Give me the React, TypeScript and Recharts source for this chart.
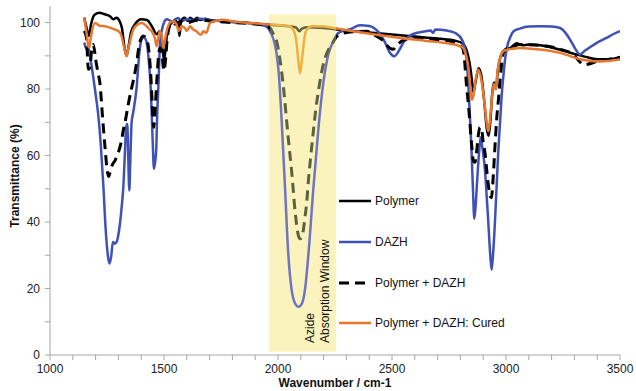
import React from 'react';
import { LineChart, Line, XAxis, YAxis, ReferenceArea, Legend, Label } from 'recharts';

const FONT = '"Liberation Sans", Arial, sans-serif';

// wavenumber (cm-1) / transmittance (%)
const polymerWn = [1150, 1160, 1170, 1180, 1195, 1215, 1240, 1262, 1278, 1292, 1305, 1315, 1328, 1336, 1345, 1355, 1373, 1400, 1425, 1446, 1468, 1482, 1492, 1500, 1508, 1515, 1534, 1550, 1562, 1568, 1575, 1590, 1605, 1615, 1630, 1645, 1660, 1680, 1700, 1750, 1800, 1850, 1900, 1950, 2000, 2050, 2080, 2093, 2105, 2130, 2200, 2300, 2400, 2500, 2600, 2700, 2780, 2812, 2828, 2840, 2850, 2857, 2866, 2880, 2892, 2905, 2916, 2924, 2932, 2940, 2947, 2955, 2965, 2980, 2995, 3020, 3047, 3070, 3100, 3150, 3200, 3250, 3300, 3350, 3400, 3450, 3500];
const polymerT = [101.5, 98.5, 96, 99.5, 102.3, 103, 102.5, 102, 101, 101.5, 100.5, 98.5, 92, 90, 93, 97, 99.5, 101, 100.8, 99, 96.5, 97.5, 94, 88.5, 93, 97.5, 100, 100.5, 99.5, 96, 100.5, 101.5, 100.5, 101.5, 100.8, 101.5, 100.8, 101.2, 100.8, 100.5, 100.2, 100, 99.7, 99.4, 99.2, 98.9, 98.5, 97.4, 98.2, 98.6, 98.4, 97.6, 97, 96.4, 95.8, 95.2, 94.5, 93.6, 91.5, 88, 83, 79, 82, 86.3, 84, 76, 68, 66, 71, 79, 82, 80, 86, 90.5, 91.8, 92.4, 93.8, 93.2, 93.4, 93.2, 92.5, 91.6, 90.6, 89.7, 89, 89, 89.6];

const dazhWn = [1150, 1160, 1168, 1180, 1197, 1212, 1222, 1234, 1244, 1252, 1260, 1268, 1276, 1284, 1292, 1305, 1315, 1322, 1328, 1334, 1339, 1343, 1348, 1352, 1358, 1365, 1380, 1392, 1402, 1412, 1424, 1434, 1442, 1450, 1456, 1461, 1466, 1470, 1476, 1482, 1490, 1500, 1512, 1534, 1550, 1562, 1575, 1600, 1630, 1660, 1700, 1775, 1850, 1921, 1950, 1965, 1980, 1993, 2003, 2016, 2031, 2045, 2060, 2075, 2090, 2105, 2118, 2133, 2155, 2177, 2199, 2221, 2243, 2265, 2316, 2360, 2400, 2440, 2470, 2490, 2510, 2530, 2550, 2590, 2640, 2670, 2680, 2690, 2740, 2780, 2810, 2825, 2835, 2843, 2849, 2855, 2861, 2867, 2874, 2882, 2889, 2897, 2908, 2915, 2922, 2930, 2937, 2944, 2952, 2959, 2966, 2974, 2981, 2990, 2996, 3006, 3018, 3035, 3061, 3100, 3149, 3200, 3237, 3260, 3281, 3305, 3325, 3345, 3368, 3400, 3441, 3470, 3500];
const dazhT = [94, 92, 92.5, 88, 80, 72, 64, 51, 38, 31, 27.5, 29.5, 34, 33.5, 34, 38.5, 45, 51, 60, 68.5, 69.5, 60, 49.5, 58, 70, 73, 80.5, 91, 95, 95.5, 94, 88, 80, 65, 56, 58, 62, 72, 82, 93, 97.5, 100, 101, 100.4, 101, 101.4, 100.5, 101, 100.8, 101.2, 100.8, 100.4, 100, 99.4, 98.8, 97.4, 95, 91, 85, 70.5, 50, 30.5, 19.5, 15.5, 14.5, 15.5, 19.5, 30, 50, 68, 82, 90.5, 94.4, 96.9, 98, 99.2, 99, 97.2, 94, 91, 89.9, 91.5, 94, 96.5, 97.3, 97.6, 96.9, 97.9, 97.6, 96.8, 94.5, 90, 81, 70, 61, 50, 41, 45, 53, 61, 65.5, 62, 55.5, 48, 40.5, 31, 25.6, 31, 40.7, 51, 61, 70, 78, 85, 89, 93, 95.5, 97.5, 98.2, 98.8, 98.9, 98.8, 98.4, 97, 94.9, 92, 90.4, 91.5, 92.6, 94, 95.4, 96.5, 97.4];

const mixWn = [1150, 1160, 1168, 1175, 1183, 1190, 1200, 1210, 1219, 1230, 1241, 1250, 1257, 1264, 1272, 1285, 1300, 1312, 1322, 1330, 1343, 1358, 1370, 1380, 1392, 1409, 1424, 1436, 1443, 1448, 1455, 1461, 1468, 1476, 1482, 1490, 1500, 1507, 1514, 1525, 1540, 1550, 1575, 1600, 1650, 1700, 1800, 1900, 1950, 1965, 1980, 1994, 2005, 2016, 2027, 2038, 2049, 2060, 2075, 2089, 2097, 2104, 2111, 2118, 2126, 2133, 2144, 2155, 2166, 2177, 2191, 2206, 2221, 2236, 2254, 2272, 2316, 2389, 2430, 2462, 2491, 2505, 2525, 2560, 2608, 2680, 2754, 2790, 2812, 2827, 2838, 2849, 2857, 2864, 2871, 2878, 2886, 2893, 2900, 2908, 2915, 2922, 2930, 2936, 2944, 2951, 2959, 2967, 2974, 2981, 2988, 3000, 3030, 3061, 3149, 3237, 3295, 3320, 3339, 3360, 3398, 3440, 3470, 3500];
const mixT = [97.5, 95.5, 86, 86.5, 92, 93.4, 89, 85, 81.8, 72, 62.7, 56, 53.7, 55, 57, 58.5, 61, 64, 67.8, 70.3, 75.3, 80.3, 84, 88, 93.5, 96, 95, 90, 83, 76, 68.5, 74, 82, 90, 92.4, 91, 85.5, 89, 95, 99, 100, 99.5, 100.5, 100, 100.8, 100.5, 100, 99.6, 99, 98.4, 96.5, 94.4, 90.5, 85.3, 78.5, 70.3, 62.5, 55.2, 43.2, 36.1, 35, 35.6, 37.5, 41.2, 46, 52.2, 60, 67.3, 74, 79.3, 85, 89.3, 91.8, 93.4, 95.5, 96.5, 97.2, 97.4, 96, 94.5, 92.3, 92, 93.5, 95, 95.4, 95, 94.4, 93.5, 92, 81, 73, 63.5, 58.5, 58, 61, 65.8, 68.5, 68, 64, 60.7, 56, 51.5, 48, 47.3, 53.7, 62, 70.8, 77, 82.8, 87.5, 90.9, 92, 92.8, 93.4, 93.2, 92, 90.4, 88.5, 87.3, 87.5, 88.3, 88.8, 89.2, 89.6];

const curedWn = [1150, 1160, 1168, 1172, 1180, 1197, 1220, 1241, 1262, 1285, 1300, 1314, 1322, 1329, 1336, 1343, 1351, 1365, 1385, 1402, 1431, 1450, 1460, 1468, 1475, 1482, 1490, 1497, 1505, 1512, 1526, 1540, 1555, 1565, 1577, 1590, 1600, 1614, 1628, 1643, 1658, 1665, 1672, 1685, 1702, 1730, 1760, 1800, 1850, 1900, 1950, 2000, 2050, 2070, 2080, 2088, 2097, 2106, 2115, 2125, 2148, 2200, 2257, 2350, 2450, 2535, 2650, 2750, 2798, 2812, 2825, 2835, 2843, 2850, 2857, 2866, 2878, 2890, 2900, 2910, 2917, 2923, 2930, 2938, 2946, 2955, 2963, 2975, 2990, 3010, 3040, 3061, 3149, 3237, 3325, 3412, 3500];
const curedT = [101.5, 97, 93, 92.5, 96, 99.9, 99, 98.9, 98.5, 97.9, 97.5, 95.9, 93.5, 91.4, 89.9, 92, 94.4, 97.9, 99.5, 99.9, 98.4, 97, 95.3, 92.9, 95.5, 97.4, 96, 92.4, 95, 97.5, 99.9, 100.4, 99.5, 97.5, 98.9, 98.5, 97.5, 98.9, 97.9, 97.4, 96.4, 96.6, 97.4, 96.9, 99.9, 100.6, 100.9, 100.4, 100, 99.8, 99.5, 99.3, 98.9, 97.5, 94.5, 89.5, 84.8, 89.5, 95, 97.8, 98.9, 98.8, 98.2, 97.2, 96.2, 95.4, 94.5, 93.7, 92.9, 92.4, 90, 86.5, 81, 76.8, 78, 82.5, 85.8, 83.5, 79, 73, 69, 67.3, 71, 77, 81.5, 80, 85.5, 89.5, 91.5, 91.9, 92.2, 92.4, 91.9, 90.9, 89, 88.3, 88.9];

const xTicks = [1000, 1100, 1200, 1300, 1400, 1500, 1600, 1700, 1800, 1900, 2000, 2100, 2200, 2300, 2400, 2500, 2600, 2700, 2800, 2900, 3000, 3100, 3200, 3300, 3400, 3500];
const yTicks = [0, 10, 20, 30, 40, 50, 60, 70, 80, 90, 100];

const toPoints = (wn: number[], t: number[]) => wn.map((x, i) => ({ wn: x, t: t[i] }));

// inside the shaded window the lines look washed by the yellow overlay
const series = [
  { id: 'polymer', name: 'Polymer', data: toPoints(polymerWn, polymerT), color: '#000000', tint: '#5d613c', dash: undefined as string | undefined, width: 2.5 },
  { id: 'dazh', name: 'DAZH', data: toPoints(dazhWn, dazhT), color: '#3f51b5', tint: '#6e73c2', dash: undefined, width: 2.5 },
  { id: 'mix', name: 'Polymer + DAZH', data: toPoints(mixWn, mixT), color: '#000000', tint: '#5d613c', dash: '10 6', width: 3 },
  { id: 'cured', name: 'Polymer + DAZH: Cured', data: toPoints(curedWn, curedT), color: '#e8772e', tint: '#f0b040', dash: undefined, width: 2.5 },
];

const renderLegend = () => (
  <div style={{ fontFamily: FONT, fontSize: 12, color: '#111' }}>
    {series.map((s) => (
      <div key={s.name} style={{ display: 'flex', alignItems: 'center', height: 40.7 }}>
        <svg width={35} height={6}>
          <line x1={1} y1={3} x2={33} y2={3} stroke={s.color} strokeWidth={s.width} strokeDasharray={s.dash} />
        </svg>
        <span style={{ marginLeft: 2 }}>{s.name}</span>
      </div>
    ))}
  </div>
);

const winL = 269.5 / 636;
const winR = 336.5 / 636;

export default function App() {
  return (
    <div style={{ position: 'absolute', left: 0, top: 0, background: '#fff' }}>
      <LineChart width={636} height={391} margin={{ top: 6, right: 16, bottom: 6, left: 0 }}>
        <defs>
          {series.map((s) => (
            <linearGradient key={s.id} id={`g-${s.id}`} gradientUnits="userSpaceOnUse" x1={0} y1={0} x2={636} y2={0}>
              <stop offset={0} stopColor={s.color} />
              <stop offset={winL} stopColor={s.color} />
              <stop offset={winL} stopColor={s.tint} />
              <stop offset={winR} stopColor={s.tint} />
              <stop offset={winR} stopColor={s.color} />
              <stop offset={1} stopColor={s.color} />
            </linearGradient>
          ))}
        </defs>
        <XAxis
          type="number"
          dataKey="wn"
          domain={[1000, 3500]}
          ticks={xTicks}
          interval={0}
          allowDataOverflow
          height={30}
          tickSize={5}
          tickMargin={4}
          tickFormatter={(v: number) => (v % 500 === 0 ? String(v) : '')}
          stroke="#a6a6a6"
          tick={{ fill: '#222', fontSize: 12, fontFamily: FONT }}
        >
          <Label
            content={() => (
              <text x={335} y={387} textAnchor="middle" fontFamily={FONT} fontSize={12} fontWeight="bold" fill="#111">
                Wavenumber / cm-1
              </text>
            )}
          />
        </XAxis>
        <YAxis
          type="number"
          domain={[0, 105]}
          ticks={yTicks}
          interval={0}
          allowDataOverflow
          width={50}
          tickSize={5}
          tickMargin={5}
          tickFormatter={(v: number) => (v % 20 === 0 ? String(v) : '')}
          stroke="#a6a6a6"
          tick={{ fill: '#222', fontSize: 12, fontFamily: FONT }}
        >
          <Label
            content={() => (
              <text x={19} y={176} transform="rotate(-90 19 176)" textAnchor="middle" fontFamily={FONT} fontSize={12} fontWeight="bold" fill="#111">
                Transmittance (%)
              </text>
            )}
          />
        </YAxis>
        <ReferenceArea
          x1={1960}
          x2={2255}
          y1={1}
          y2={102.5}
          fill="#fbf3bd"
          fillOpacity={1}
          stroke="none"
          ifOverflow="visible"
        >
          <Label
            content={() => (
              <g fontFamily={FONT} fontSize={12} fill="#111">
                <text x={314} y={343} transform="rotate(-90 314 343)" textAnchor="start">Azide</text>
                <text x={329} y={343} transform="rotate(-90 329 343)" textAnchor="start">Absorption Window</text>
              </g>
            )}
          />
        </ReferenceArea>
        {series.map((s) => (
          <Line
            key={s.name}
            data={s.data}
            dataKey="t"
            name={s.name}
            type="monotone"
            stroke={`url(#g-${s.id})`}
            strokeWidth={s.width}
            strokeDasharray={s.dash}
            dot={false}
            activeDot={false}
            isAnimationActive={false}
          />
        ))}
        <Legend
          layout="horizontal"
          verticalAlign="middle"
          align="center"
          content={renderLegend}
          wrapperStyle={{ left: 338, top: 181, width: 200 }}
        />
      </LineChart>
    </div>
  );
}
